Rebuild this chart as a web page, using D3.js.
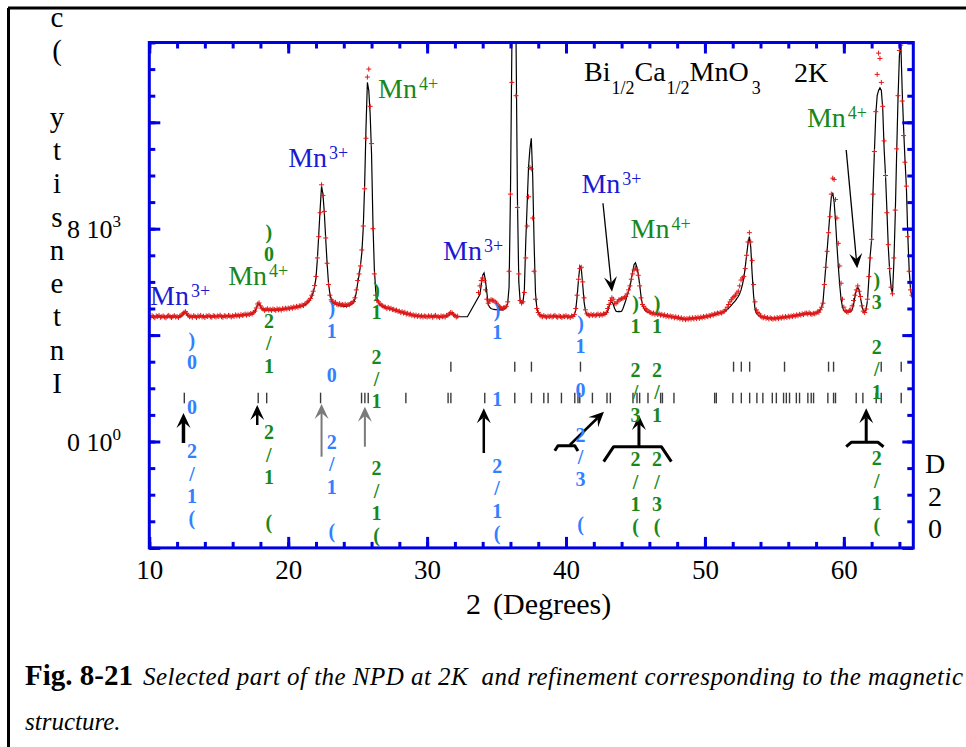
<!DOCTYPE html>
<html>
<head>
<meta charset="utf-8">
<script src="https://cdn.jsdelivr.net/npm/d3@7"></script>
<style>
  body { margin: 0; background: #fff; }
  svg { display: block; }
</style>
</head>
<body>
<div id="chart"></div>
<script>
const width = 966
const height = 747

// NPD scan, 2theta from 10 to 65 deg in 0.1 deg steps (null = excluded region)
const scanStart = 10
const scanStep = 0.1

const observed = [
  4710, 4660, 4730, 4690, 4650, 4720, 4700, 4740, 4670, 4690,
  4720, 4680, 4650, 4710, 4740, 4690, 4660, 4700, 4730, 4680,
  4700, 4660, 4720, 4750, 4790, 4850, 4880, 4820, 4740, 4690,
  4710, 4670, 4730, 4700, 4660, 4720, 4690, 4740, 4680, 4710,
  4660, 4720, 4700, 4740, 4690, 4670, 4730, 4710, 4680, 4720,
  4700, 4750, 4690, 4670, 4730, 4710, 4690, 4740, 4720, 4680,
  4730, 4700, 4760, 4720, 4750, 4710, 4770, 4740, 4760, 4790,
  4750, 4790, 4770, 4810, 4790, 4850, 4900, 5020, 5170, 5210,
  5100, 5010, 4980, 4930, 4960, 4990, 4940, 4970, 4930, 4980,
  4960, 4930, 4990, 4950, 4980, 4940, 5000, 4970, 5010, 4980,
  5020, 4990, 5040, 5010, 5060, 5030, 5080, 5050, 5100, 5090,
  5130, 5110, 5170, 5200, 5250, 5310, 5380, 5500, 5650, 5860,
  6200, 6900, 7700, 8600, 9650, 9250, 8650, 7650, 6700, 5900,
  5500, 5330, 5280, 5190, 5230, 5160, 5140, 5180, 5130, 5150,
  5120, 5160, 5110, 5150, 5140, 5190, 5220, 5260, 5400, 5700,
  6050, 6300, 6600, 7200, 8100, 9500, 11400, 13700, 14000, 12600,
  11200, 8000, 6300, 5500, 5300, 5250, 5170, 5130, 5100, 5060,
  5050, 5000, 5040, 4990, 5010, 4960, 4970, 4920, 4940, 4890,
  4900, 4850, 4880, 4830, 4860, 4790, 4820, 4770, 4790, 4740,
  4760, 4720, 4750, 4700, 4740, 4690, 4730, 4680, 4720, 4700,
  4680, 4720, 4690, 4730, 4670, 4710, 4740, 4680, 4700, 4660,
  4720, 4690, 4710, 4680, 4740, 4750, 4800, 4850, 4830, 4770,
  4730, 4680, 4710, null, null, null, null, null, null, null,
  null, null, null, null, null, null, null, 5600, 5850, 6050,
  6150, 6050, 5700, 5350, 5200, 5280, 5330, 5310, 5290, 5250,
  5200, 5130, 5070, 5030, 5000, 5020, 5040, 5080, 5250, 6400,
  9300, 13500, 17000, 17500, 13000, 8800, 6300, 5300, 5200, 5250,
  5600, 6900, 8100, 9200, 10300, 10250, 8400, 6400, 5350, 5000,
  4850, 4760, 4720, 4690, 4730, 4700, 4670, 4710, 4690, 4720,
  4680, 4710, 4740, 4690, 4670, 4720, 4700, 4660, 4710, 4690,
  4730, 4680, 4700, 4660, 4720, 4700, 4770, 5000, 5500, 6100,
  6500, 6550, 6000, 5400, 4950, 4800, 4760, 4730, 4780, 4740,
  4770, 4730, 4760, 4790, 4740, 4780, 4750, 4800, 4790, 4850,
  5000, 5150, 5300, 5400, 5350, 5200, 5180, 5250, 5320, 5340,
  5370, 5380, 5420, 5450, 5550, 5700, 5850, 6100, 6300, 6450,
  6520, 6450, 6250, 5850, 5400, 5150, 5080, 5000, 4950, 4900,
  4870, 4850, 4800, 4830, 4780, 4820, 4770, 4800, 4750, 4780,
  4730, 4760, 4700, 4740, 4690, 4720, 4680, 4700, 4650, 4690,
  4640, 4670, 4610, 4650, 4590, 4630, 4580, 4620, 4600, 4640,
  4600, 4650, 4610, 4660, 4620, 4670, 4630, 4680, 4650, 4700,
  4670, 4720, 4690, 4740, 4720, 4770, 4750, 4800, 4790, 4830,
  4810, 4850, 4830, 4870, 4900, 4960, 5050, 5150, 5250, 5330,
  5400, 5450, 5500, 5580, 5650, 5850, 6070, 6150, 6200, 6500,
  7000, 7500, 7850, 7500, 6800, 5900, 5250, 4950, 4850, 4800,
  4720, 4680, 4650, 4690, 4630, 4660, 4610, 4650, 4620, 4600,
  4640, 4610, 4660, 4620, 4670, 4640, 4690, 4650, 4700, 4660,
  4710, 4680, 4720, 4700, 4740, 4710, 4760, 4730, 4780, 4750,
  4800, 4770, 4820, 4830, 4790, 4840, 4800, 4780, 4820, 4800,
  4830, 4870, 4860, 4950, 5050, 5200, 5900, 6550, 7150, 7850,
  8450, 9300, 9900, 9850, 9100, 8400, 7450, 6600, 5950, 5350,
  5050, 4920, 4880, 4860, 4930, 4950, 5100, 5300, 5500, 5700,
  5850, 5650, 5450, 5100, 4900, 4850, 4980, 5350, 6200, 6900,
  7600, 9300, 10900, 12400, 13800, 14600, 14400, 13500, 12600, 11300,
  10000, 8600, 7400, 6500, 5800, 5550, 6900, 8700, 11000, 13000,
  14700, 14900, 12800, 11500, 10500, 9600, 7700, 6400, 5700, 5500,
  5450
]

const calculated = [
  4690, 4690, 4690, 4690, 4690, 4690, 4690, 4690, 4690, 4690,
  4690, 4690, 4690, 4690, 4690, 4690, 4690, 4690, 4690, 4690,
  4690, 4690, 4700, 4710, 4740, 4830, 4860, 4790, 4720, 4700,
  4700, 4700, 4700, 4700, 4700, 4700, 4700, 4700, 4700, 4700,
  4700, 4700, 4700, 4700, 4700, 4700, 4700, 4700, 4700, 4700,
  4710, 4710, 4710, 4710, 4710, 4710, 4710, 4710, 4710, 4710,
  4720, 4720, 4730, 4730, 4740, 4740, 4750, 4750, 4760, 4760,
  4770, 4770, 4780, 4790, 4800, 4820, 4880, 5000, 5150, 5180,
  5080, 5000, 4960, 4950, 4950, 4950, 4950, 4950, 4950, 4950,
  4950, 4950, 4950, 4960, 4960, 4960, 4970, 4970, 4980, 4990,
  5000, 5000, 5010, 5020, 5030, 5040, 5050, 5060, 5070, 5080,
  5100, 5110, 5140, 5170, 5220, 5280, 5350, 5450, 5600, 5820,
  6150, 6850, 7800, 8750, 9600, 9300, 8600, 7600, 6700, 5950,
  5550, 5350, 5250, 5200, 5170, 5150, 5130, 5110, 5100, 5090,
  5080, 5080, 5090, 5100, 5120, 5150, 5180, 5230, 5350, 5600,
  5950, 6250, 6600, 7100, 8000, 9600, 11800, 13500, 13200, 12300,
  10800, 8200, 6500, 5650, 5350, 5220, 5150, 5110, 5080, 5060,
  5030, 5020, 5010, 5000, 4990, 4970, 4950, 4930, 4910, 4900,
  4880, 4860, 4850, 4840, 4820, 4800, 4790, 4780, 4770, 4760,
  4740, 4730, 4730, 4720, 4720, 4710, 4710, 4700, 4700, 4700,
  4700, 4700, 4700, 4700, 4700, 4700, 4700, 4700, 4700, 4700,
  4700, 4700, 4700, 4700, 4710, 4720, 4780, 4830, 4840, 4780,
  4720, 4700, 4690, 4690, 4690, 4690, 4690, 4690, 4690, 4690,
  null, null, null, null, null, null, null, null, 5520, 5900,
  6250, 6340, 6050, 5600, 5150, 5050, 5000, 4980, 4970, 4960,
  4960, 4950, 4950, 4950, 4950, 4960, 5000, 5050, 5200, 5800,
  9300, 14800, 17500, 17600, 15200, 9200, 6000, 5250, 5200, 5250,
  5700, 7500, 8900, 10300, 11000, 11400, 10000, 7500, 5600, 5000,
  4850, 4780, 4740, 4720, 4710, 4700, 4700, 4700, 4700, 4700,
  4700, 4700, 4700, 4700, 4700, 4700, 4700, 4700, 4700, 4700,
  4700, 4700, 4700, 4700, 4700, 4710, 4760, 4950, 5450, 6100,
  6600, 6500, 5900, 5250, 4900, 4780, 4750, 4750, 4750, 4750,
  4750, 4750, 4750, 4750, 4750, 4760, 4760, 4770, 4780, 4800,
  4900, 5080, 5220, 5250, 5150, 5000, 4900, 4880, 4890, 4880,
  4900, 5000, 5150, 5300, 5500, 5650, 5800, 6100, 6400, 6650,
  6720, 6550, 6300, 5900, 5450, 5150, 5000, 4920, 4880, 4860,
  4850, 4840, 4830, 4820, 4810, 4800, 4790, 4780, 4770, 4760,
  4750, 4740, 4730, 4720, 4710, 4700, 4690, 4680, 4670, 4660,
  4650, 4640, 4630, 4620, 4610, 4600, 4600, 4600, 4610, 4620,
  4620, 4630, 4630, 4640, 4640, 4650, 4650, 4660, 4670, 4680,
  4690, 4700, 4710, 4720, 4730, 4740, 4750, 4760, 4780, 4800,
  4820, 4830, 4850, 4870, 4890, 4920, 4960, 5010, 5060, 5120,
  5180, 5240, 5300, 5380, 5450, 5550, 5700, 5900, 6150, 6550,
  7000, 7450, 7700, 7300, 6300, 5500, 5000, 4820, 4760, 4720,
  4700, 4690, 4680, 4670, 4660, 4650, 4640, 4640, 4630, 4630,
  4630, 4640, 4640, 4650, 4650, 4660, 4660, 4670, 4680, 4680,
  4690, 4700, 4700, 4710, 4720, 4730, 4740, 4750, 4760, 4770,
  4780, 4790, 4800, 4810, 4810, 4810, 4810, 4810, 4820, 4830,
  4840, 4860, 4890, 4950, 5050, 5250, 5900, 6600, 7200, 7900,
  8600, 9200, 9350, 9000, 8300, 7400, 6600, 5900, 5350, 5050,
  4920, 4880, 4870, 4870, 4870, 4880, 4950, 5150, 5450, 5700,
  5800, 5700, 5400, 5100, 4920, 4880, 4950, 5300, 6100, 7000,
  7600, 9400, 10900, 12300, 13000, 13200, 13300, 13200, 12500, 11000,
  10000, 8700, 7300, 6400, 5800, 5550, 6700, 8500, 10800, 12900,
  14500, 15000, 13200, 11800, 10600, 9600, 7800, 6500, 5700, 5450,
  5400
]

// Bragg reflection markers (2theta), upper and lower rows
const reflectionsUpper = [31.71, 36.31, 37.51, 41.04, 52.06, 52.62, 53.22, 55.73, 58.90, 59.26, 62.69, 64.13]
const reflectionsLower = [12.52, 17.84, 18.45, 22.33, 25.28, 25.52, 25.76, 28.47, 31.51, 31.71, 34.15, 36.31,
  37.51, 38.40, 38.71, 39.67, 40.63, 40.86, 40.99, 41.90, 42.95, 43.19, 44.82, 45.11, 45.30, 45.90, 46.81,
  46.94, 47.77, 50.70, 50.82, 52.01, 52.62, 53.22, 53.74, 54.17, 54.85, 55.14, 55.66, 55.86, 56.09, 56.58,
  56.81, 57.41, 57.65, 57.82, 58.85, 59.26, 59.40, 60.89, 61.37, 62.33, 62.69, 64.13]

const xTickValues = [10, 20, 30, 40, 50, 60]
const yTickLabels = [
  { value: 8000, base: "8 10", power: "3" },
  { value: 0, base: "0 10", power: "0" }
]

// ion labels: anchored at (2theta, counts) = left/baseline of text
const ionLabels = [
  { charge: "3+", t: 10.05, c: 5132, valence: 3 },
  { charge: "4+", t: 15.68, c: 5883, valence: 4 },
  { charge: "3+", t: 20.0, c: 10319, valence: 3 },
  { charge: "4+", t: 26.47, c: 12902, valence: 4 },
  { charge: "3+", t: 31.15, c: 6823, valence: 3 },
  { charge: "3+", t: 41.11, c: 9331, valence: 3 },
  { charge: "4+", t: 44.65, c: 7639, valence: 4 },
  { charge: "4+", t: 57.34, c: 11812, valence: 4 }
]

// hkl indices written vertically (read bottom to top)
const hklLabels = [
  { hkl: "(1/2 0 0)", t: 13.07, c: 3816, valence: 3 },
  { hkl: "( 1/2  1/2  0)", t: 18.61, c: 7887, valence: 4 },
  { hkl: "( 1/2  0 1)", t: 23.14, c: 5008, valence: 3 },
  { hkl: "(1/2  1/2 1)", t: 26.36, c: 5696, valence: 4 },
  { hkl: "(1/2  1  1)", t: 35.04, c: 4944, valence: 3 },
  { hkl: "( 3/2 0 1)", t: 41.04, c: 4444, valence: 3 },
  { hkl: "(1/2 3/2 1)", t: 45.0, c: 5196, valence: 4 },
  { hkl: "(3/2 1/2 1)", t: 46.55, c: 5196, valence: 4 },
  { hkl: "(1/2  1/2 3)", t: 62.37, c: 6071, valence: 4 }
]

// arrows below the markers: [2theta, counts] tail -> tip
const markerArrows = [
  { from: [12.46, -56], to: [12.46, 1071], w: 3.5, color: "#000" },
  { from: [17.77, 620], to: [17.77, 1372], w: 2.5, color: "#000" },
  { from: [22.40, -571], to: [22.40, 1410], w: 2, color: "#7a7a7a" },
  { from: [25.52, -195], to: [25.52, 1308], w: 2, color: "#7a7a7a" },
  { from: [34.08, -432], to: [34.08, 1248], w: 2.5, color: "#000" },
  { from: [40.27, -132], to: [42.73, 1120], w: 2.5, color: "#000" },
  { from: [45.25, -169], to: [45.25, 996], w: 3, color: "#000" },
  { from: [61.61, -30], to: [61.61, 1248], w: 3, color: "#000" }
]
const brackets = [
  [[39.19, -346], [39.42, -158], [40.63, -158], [40.86, -357]],
  [[42.71, -759], [43.43, -195], [46.86, -195], [47.58, -759]],
  [[60.17, -195], [60.53, -30], [62.45, -30], [62.86, -195]]
]
const ionArrows = [
  { from: [42.66, 8955], to: [43.31, 5632] },
  { from: [60.17, 10959], to: [60.96, 6511] }
]

const serif = "'Liberation Serif', 'Times New Roman', serif"
const frameBlue = "#0000e0"
const mn3Blue = "#1a1ad2"
const mn4Green = "#18881c"
const hklBlue = "#3080ff"

const svg = d3.select("#chart").append("svg")
  .attr("width", width)
  .attr("height", height)
  .style("font-family", serif)

const x = d3.scaleLinear().domain([10, 65]).range([149.3, 913.3])
const y = d3.scaleLinear().domain([-4000, 15000]).range([547.9, 42.5])

/* outer black frame */
svg.append("line").attr("x1", 8).attr("x2", width).attr("y1", 8).attr("y2", 8)
  .attr("stroke", "#000").attr("stroke-width", 3)
svg.append("line").attr("x1", 8.5).attr("x2", 8.5).attr("y1", 8).attr("y2", height)
  .attr("stroke", "#000").attr("stroke-width", 3)

svg.append("clipPath").attr("id", "plot-clip")
  .append("rect")
  .attr("x", x.range()[0]).attr("y", y.range()[1])
  .attr("width", x.range()[1] - x.range()[0])
  .attr("height", y.range()[0] - y.range()[1])

const toPoints = arr => arr
  .map((v, i) => ({ t: +(scanStart + i * scanStep).toFixed(1), v }))
  .filter(d => d.v != null)

const obsPoints = toPoints(observed)
const calcPoints = toPoints(calculated)

const plot = svg.append("g").attr("clip-path", "url(#plot-clip)")

/* calculated profile */
plot.append("path")
  .datum(calcPoints)
  .attr("fill", "none")
  .attr("stroke", "#000")
  .attr("stroke-width", 1.2)
  .attr("d", d3.line().x(d => x(d.t)).y(d => y(d.v)))

/* observed points as + marks */
plot.append("path")
  .attr("fill", "none")
  .attr("stroke", "#e01818")
  .attr("stroke-width", 1)
  .attr("d", obsPoints.map(d => {
    const px = x(d.t), py = y(d.v)
    return `M${px - 2.5},${py}h5M${px},${py - 2.5}v5`
  }).join(""))

/* reflection markers */
const markerRows = [
  { list: reflectionsUpper, top: 3000, bottom: 2624 },
  { list: reflectionsLower, top: 1835, bottom: 1436 }
]
markerRows.forEach(row => {
  svg.append("g").selectAll("line")
    .data(row.list)
    .join("line")
    .attr("x1", d => x(d)).attr("x2", d => x(d))
    .attr("y1", y(row.top)).attr("y2", y(row.bottom))
    .attr("stroke", "#3a3a3a")
    .attr("stroke-width", 1.4)
})

/* arrows */
function drawArrow(g, x1, y1, x2, y2, stroke, sw, headLen, headHalf) {
  const dx = x2 - x1, dy = y2 - y1
  const len = Math.hypot(dx, dy)
  const ux = dx / len, uy = dy / len
  const bx = x2 - ux * headLen, by = y2 - uy * headLen
  const nx = x2 - ux * headLen * 0.6, ny = y2 - uy * headLen * 0.6
  g.append("line")
    .attr("x1", x1).attr("y1", y1).attr("x2", nx).attr("y2", ny)
    .attr("stroke", stroke).attr("stroke-width", sw)
  g.append("path")
    .attr("d", `M${x2},${y2}L${bx - uy * headHalf},${by + ux * headHalf}L${nx},${ny}L${bx + uy * headHalf},${by - ux * headHalf}Z`)
    .attr("fill", stroke)
}

const arrowLayer = svg.append("g")
markerArrows.forEach(a => {
  drawArrow(arrowLayer, x(a.from[0]), y(a.from[1]), x(a.to[0]), y(a.to[1]), a.color, a.w, 15, 7)
})
brackets.forEach(b => {
  arrowLayer.append("path")
    .attr("d", d3.line().x(d => x(d[0])).y(d => y(d[1])).curve(d3.curveLinear)(b))
    .attr("fill", "none")
    .attr("stroke", "#000")
    .attr("stroke-width", 3)
    .attr("stroke-linejoin", "round")
})
ionArrows.forEach(a => {
  drawArrow(arrowLayer, x(a.from[0]), y(a.from[1]), x(a.to[0]), y(a.to[1]), "#000", 1.3, 15, 6.5)
})

/* hkl labels, one character per line */
const hklLayer = svg.append("g")
  .attr("font-size", 20)
  .attr("font-weight", "bold")
  .attr("text-anchor", "middle")
hklLabels.forEach(l => {
  const chars = l.hkl.split("").reverse()
  chars.forEach((ch, k) => {
    if (ch === " ") return
    hklLayer.append("text")
      .attr("x", x(l.t))
      .attr("y", y(l.c) + k * 22.3 + 7)
      .attr("fill", l.valence === 3 ? hklBlue : mn4Green)
      .text(ch)
  })
})

/* Mn labels */
ionLabels.forEach(l => {
  const t = svg.append("text")
    .attr("x", x(l.t))
    .attr("y", y(l.c))
    .attr("font-size", 28)
    .attr("fill", l.valence === 3 ? mn3Blue : mn4Green)
  t.append("tspan").text("Mn")
  t.append("tspan").attr("font-size", 18).attr("dx", 2).attr("dy", -8).text(l.charge)
})

/* compound title */
const title = svg.append("text").attr("x", 584).attr("y", 81).attr("font-size", 28)
title.append("tspan").text("Bi")
title.append("tspan").attr("font-size", 18).attr("dy", 13).attr("dx", 1).text("1/2")
title.append("tspan").attr("dy", -13).text("Ca")
title.append("tspan").attr("font-size", 18).attr("dy", 13).attr("dx", 1).text("1/2")
title.append("tspan").attr("dy", -13).text("MnO")
title.append("tspan").attr("font-size", 18).attr("dy", 13).attr("dx", 3).text("3")
svg.append("text").attr("x", 794).attr("y", 82).attr("font-size", 28).text("2K")

/* axes */
function styleAxis(g) {
  g.select(".domain").remove()
  g.selectAll(".tick line").attr("stroke", frameBlue).attr("stroke-width", 3)
}

const minorX = d3.range(10, 65, 2)
const minorY = d3.range(-4000, 15001, 1000)
const majorY = [-4000, 0, 4000, 8000, 12000]

svg.append("g").attr("transform", `translate(0,${y.range()[0]})`)
  .call(d3.axisBottom(x).tickValues(minorX).tickSize(-6).tickFormat(""))
  .call(styleAxis)
const xAxis = svg.append("g").attr("transform", `translate(0,${y.range()[0]})`)
  .call(d3.axisBottom(x).tickValues(xTickValues).tickSize(-11).tickPadding(12).tickFormat(d3.format("d")))
  .call(styleAxis)
xAxis.attr("font-family", serif).attr("font-size", 27)
xAxis.selectAll(".tick text").attr("fill", "#000")

svg.append("g").attr("transform", `translate(0,${y.range()[1]})`)
  .call(d3.axisTop(x).tickValues(minorX).tickSize(-6).tickFormat(""))
  .call(styleAxis)
svg.append("g").attr("transform", `translate(0,${y.range()[1]})`)
  .call(d3.axisTop(x).tickValues(xTickValues).tickSize(-11).tickFormat(""))
  .call(styleAxis)

svg.append("g").attr("transform", `translate(${x.range()[0]},0)`)
  .call(d3.axisLeft(y).tickValues(minorY).tickSize(-6).tickFormat(""))
  .call(styleAxis)
svg.append("g").attr("transform", `translate(${x.range()[0]},0)`)
  .call(d3.axisLeft(y).tickValues(majorY).tickSize(-11).tickFormat(""))
  .call(styleAxis)
svg.append("g").attr("transform", `translate(${x.range()[1]},0)`)
  .call(d3.axisRight(y).tickValues(minorY).tickSize(-6).tickFormat(""))
  .call(styleAxis)
svg.append("g").attr("transform", `translate(${x.range()[1]},0)`)
  .call(d3.axisRight(y).tickValues(majorY).tickSize(-11).tickFormat(""))
  .call(styleAxis)

svg.append("rect")
  .attr("x", x.range()[0]).attr("y", y.range()[1])
  .attr("width", x.range()[1] - x.range()[0])
  .attr("height", y.range()[0] - y.range()[1])
  .attr("fill", "none")
  .attr("stroke", frameBlue)
  .attr("stroke-width", 3)

/* y tick labels with powers of ten */
yTickLabels.forEach(l => {
  const t = svg.append("text")
    .attr("x", 121)
    .attr("y", y(l.value) + 9)
    .attr("font-size", 26)
    .attr("text-anchor", "end")
  t.append("tspan").text(l.base)
  t.append("tspan").attr("font-size", 17).attr("dy", -11).text(l.power)
})

/* axis titles, one glyph per line; the top of the y title runs off the page */
const yTitle = "Intensity (c"
yTitle.split("").forEach((ch, k) => {
  if (ch === " ") return
  svg.append("text")
    .attr("x", 57).attr("y", 393 - k * 33.3)
    .attr("font-size", 29).attr("text-anchor", "middle")
    .text(ch)
})
"D20".split("").forEach((ch, k) => {
  svg.append("text")
    .attr("x", 935).attr("y", 473 + k * 32.5)
    .attr("font-size", 28).attr("text-anchor", "middle")
    .text(ch)
})
svg.append("text").attr("x", 466).attr("y", 614).attr("font-size", 30).text("2")
svg.append("text").attr("x", 493).attr("y", 614).attr("font-size", 30).text("(Degrees)")

/* caption */
svg.append("text").attr("x", 25).attr("y", 685)
  .attr("font-size", 29).attr("font-weight", "bold").text("Fig. 8-21")
svg.append("text").attr("x", 143).attr("y", 685)
  .attr("font-size", 25).attr("font-style", "italic")
  .attr("textLength", 820).attr("lengthAdjust", "spacing")
  .style("white-space", "pre")
  .text("Selected part of the NPD at 2K  and refinement corresponding to the magnetic")
svg.append("text").attr("x", 25).attr("y", 730)
  .attr("font-size", 25).attr("font-style", "italic").text("structure.")
</script>
</body>
</html>
